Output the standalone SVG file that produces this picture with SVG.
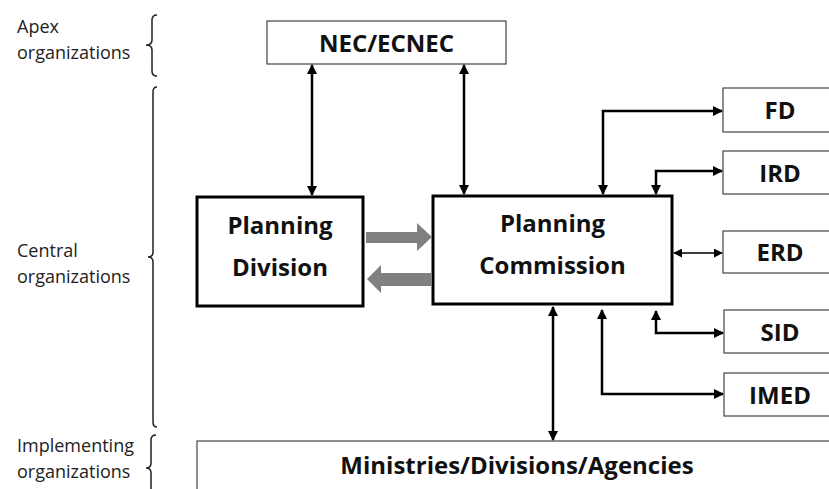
<svg xmlns="http://www.w3.org/2000/svg" width="829" height="489" viewBox="0 0 829 489">
<defs>
<marker id="ah" viewBox="0 0 10 10" refX="9" refY="5" markerWidth="4" markerHeight="4" orient="auto-start-reverse" markerUnits="strokeWidth"><path d="M0,0 L10,5 L0,10 z" fill="#000"/></marker>
<marker id="ahs" viewBox="0 0 10 10" refX="9" refY="5" markerWidth="6" markerHeight="6" orient="auto-start-reverse" markerUnits="strokeWidth"><path d="M0,0 L10,5 L0,10 z" fill="#000"/></marker>
</defs>
<style>
.lbl{font-family:"Open Sans","Liberation Sans",sans-serif;font-size:18px;fill:#222}
.t{font-family:"Open Sans","Liberation Sans",sans-serif;font-weight:bold;font-size:24px;fill:#111;text-anchor:middle}
.box{fill:#fff;stroke:#444;stroke-width:1.2}
.thick{fill:#fff;stroke:#000;stroke-width:3}
.br{fill:none;stroke:#222;stroke-width:1.5}
.c{fill:none;stroke:#000;stroke-width:2.5;marker-start:url(#ah);marker-end:url(#ah)}
.cs{fill:none;stroke:#000;stroke-width:1.5;marker-start:url(#ahs);marker-end:url(#ahs)}
.g{fill:#808080}
</style>
<rect width="829" height="489" fill="#fff"/>
<g id="labels">
<text class="lbl" x="17" y="33">Apex</text>
<text class="lbl" x="17" y="59">organizations</text>
<text class="lbl" x="17" y="257">Central</text>
<text class="lbl" x="17" y="283">organizations</text>
<text class="lbl" x="17" y="452">Implementing</text>
<text class="lbl" x="17" y="478">organizations</text>
<path class="br" d="M157,15 Q152,15 152,20 V40 Q152,45 146,45 Q152,45 152,50 V71 Q152,76 157,76"/>
<path class="br" d="M157,87 Q153,87 153,92 V252 Q153,257 148,257 Q153,257 153,262 V422 Q153,427 157,427"/>
<path class="br" d="M156,435 Q151,435 151,440 V463 Q151,468 146,468 Q151,468 151,473 V489"/>
</g>
<g id="nec"><rect class="box" x="267" y="21" width="239" height="43"/><text class="t" x="386.5" y="52">NEC/ECNEC</text></g>
<g id="pd"><rect class="thick" x="197" y="197" width="166" height="109"/><text class="t" x="280" y="234">Planning</text><text class="t" x="280" y="276">Division</text></g>
<g id="pc"><rect class="thick" x="433" y="196" width="239" height="108"/><text class="t" x="552.5" y="232">Planning</text><text class="t" x="552.5" y="274">Commission</text></g>
<g id="fd"><rect class="box" x="723" y="88" width="110" height="44"/><text class="t" x="780" y="119">FD</text></g>
<g id="ird"><rect class="box" x="723" y="151" width="110" height="43"/><text class="t" x="780" y="182">IRD</text></g>
<g id="erd"><rect class="box" x="723" y="231" width="110" height="42"/><text class="t" x="780" y="261">ERD</text></g>
<g id="sid"><rect class="box" x="724" y="310" width="110" height="43"/><text class="t" x="780" y="341">SID</text></g>
<g id="imed"><rect class="box" x="724" y="373" width="110" height="43"/><text class="t" x="780" y="404">IMED</text></g>
<g id="mda"><rect class="box" x="197" y="441" width="640" height="60"/><text class="t" x="517" y="474">Ministries/Divisions/Agencies</text></g>
<g id="connectors">
<path class="c" d="M312,65 V195"/>
<path class="c" d="M464,65 V194"/>
<path class="c" d="M722,111 H603 V194"/>
<path class="c" d="M722,171 H656 V194"/>
<path class="cs" d="M674,253 H722"/>
<path class="c" d="M656,311 V333 H723"/>
<path class="c" d="M602,310 V394 H723"/>
<path class="c" d="M553,307 V440"/>
<path class="g" d="M366,232 H417 V223 L432,237 L417,251 V243 H366 z"/>
<path class="g" d="M432,273 H381 V265 L367,279 L381,293 V286 H432 z"/>
</g>
</svg>
